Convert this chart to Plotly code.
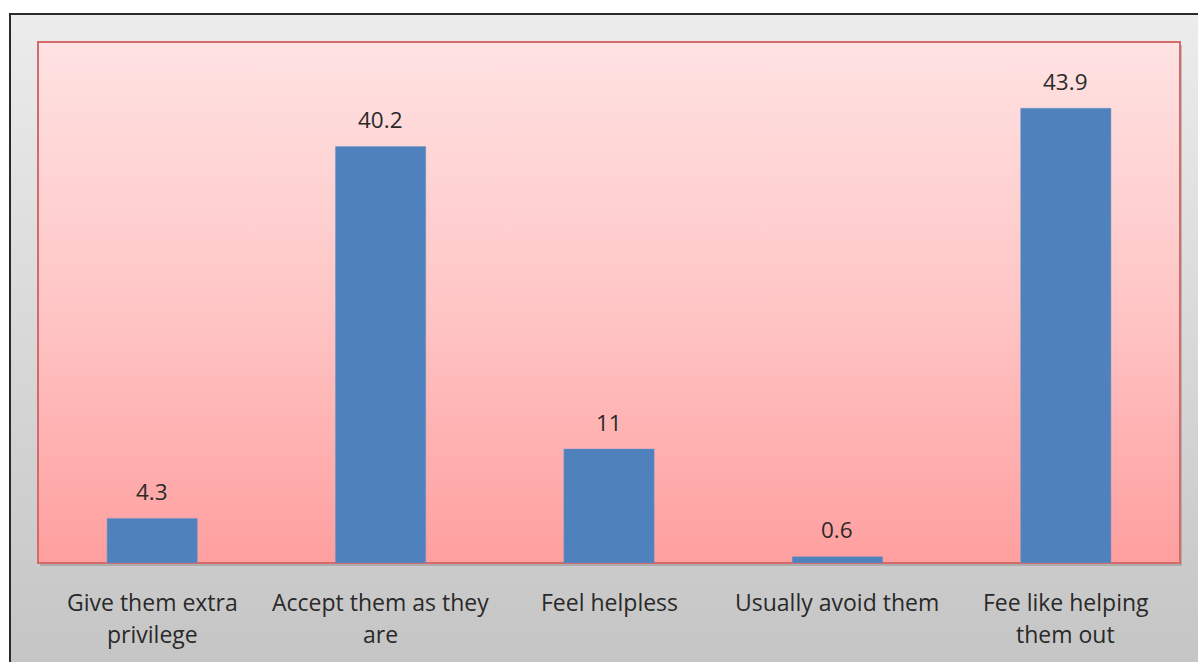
import base64
import plotly.graph_objects as go

# Survey responses (percent)
categories = ["Give them extra privilege", "Accept them as they are", "Feel helpless",
              "Usually avoid them", "Fee like helping them out"]
tick_lines = [["Give them extra", "privilege"], ["Accept them as they", "are"],
              ["Feel helpless"], ["Usually avoid them"], ["Fee like helping", "them out"]]
values = [4.3, 40.2, 11, 0.6, 43.9]

W, H = 1198, 662
# plot area in pixels
PX0, PX1, PY0, PY1 = 38, 1180, 42, 563
FONT = "Open Sans"
TXT = "#2a2a2a"

# Background: grey chart box with a vertical gradient, a pink gradient plot area and its shadow
svg = f"""<svg xmlns='http://www.w3.org/2000/svg' width='{W}' height='{H}' viewBox='0 0 {W} {H}' preserveAspectRatio='none'>
<defs>
<linearGradient id='g' x1='0' y1='0' x2='0' y2='1'>
<stop offset='0' stop-color='#ececec'/><stop offset='1' stop-color='#c3c3c3'/></linearGradient>
<linearGradient id='p' x1='0' y1='0' x2='0' y2='1'>
<stop offset='0' stop-color='#ffe2e2'/><stop offset='0.5' stop-color='#ffc6c6'/><stop offset='1' stop-color='#ff9f9f'/></linearGradient>
</defs>
<rect x='0' y='0' width='{W}' height='{H}' fill='#ffffff'/>
<rect x='10' y='14' width='{W + 20}' height='{H + 20}' fill='url(#g)' stroke='#2a2a2a' stroke-width='2'/>
<rect x='{PX0 + 2}' y='{PY0 + 3}' width='{PX1 - PX0}' height='{PY1 - PY0}' fill='#8a8a8a' opacity='0.45'/>
<rect x='{PX0}' y='{PY0}' width='{PX1 - PX0}' height='{PY1 - PY0}' fill='url(#p)' stroke='#d46a6a' stroke-width='2'/>
</svg>"""
bg_uri = "data:image/svg+xml;base64," + base64.b64encode(svg.encode()).decode()

fig = go.Figure()
fig.add_trace(go.Bar(
    x=categories, y=values, width=0.395,
    marker=dict(color="#4f81bd", line=dict(color="#6a95c8", width=0.5)),
    hoverinfo="skip",
))

# value labels above each bar
for c, v in zip(categories, values):
    fig.add_annotation(x=c, y=v, text=str(v), showarrow=False, yanchor="middle",
                       yshift=27, font=dict(family=FONT, size=22.5, color=TXT))

# category labels, one annotation per line
for c, lines in zip(categories, tick_lines):
    for i, line in enumerate(lines):
        ypx = 602 + 32 * i
        fig.add_annotation(x=c, y=1 - ypx / H, yref="paper", text=line, showarrow=False,
                           yanchor="middle", font=dict(family=FONT, size=23, color=TXT))

fig.update_layout(
    width=W, height=H,
    margin=dict(l=0, r=0, t=0, b=0),
    paper_bgcolor="white",
    plot_bgcolor="rgba(0,0,0,0)",
    showlegend=False,
    images=[dict(source=bg_uri, xref="paper", yref="paper", x=0, y=1, sizex=1, sizey=1,
                 xanchor="left", yanchor="top", sizing="stretch", layer="below")],
    xaxis=dict(domain=[PX0 / W, PX1 / W], range=[-0.5, 4.5], showticklabels=False,
               showgrid=False, zeroline=False, showline=False, ticks=""),
    yaxis=dict(domain=[1 - PY1 / H, 1 - PY0 / H], range=[0, 50.3], showticklabels=False,
               showgrid=False, zeroline=False, showline=False, ticks=""),
)

fig.write_html("out.html")
